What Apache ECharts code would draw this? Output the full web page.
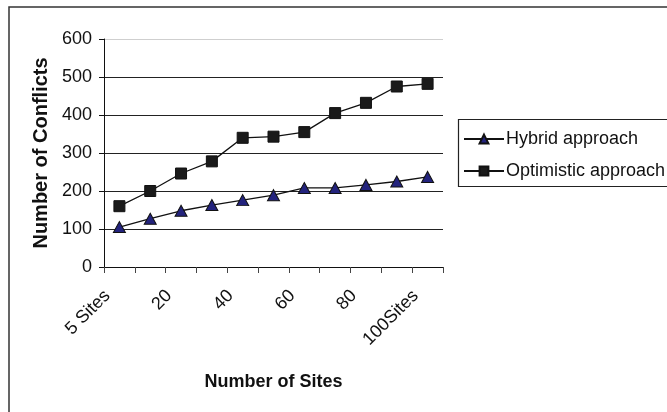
<!DOCTYPE html>
<html>
<head>
<meta charset="utf-8">
<script src="https://cdn.jsdelivr.net/npm/echarts@6/dist/echarts.min.js"></script>
<style>
  html, body { margin: 0; padding: 0; background: #fff; }
  #chart { width: 667px; height: 412px; }
</style>
</head>
<body>
<div id="chart"></div>
<script>
// Categories: number of replica sites
const sites = ['5 Sites', '10', '20', '30', '40', '50', '60', '70', '80', '90', '100Sites'];
// Conflicts per approach
const hybridConflicts = [105, 127, 148, 163, 176, 189, 208, 208, 216, 225, 237];
const optimisticConflicts = [160, 200, 246, 278, 340, 343, 355, 405, 432, 475, 482];
// Value axis ticks
const yMin = 0, yMax = 600, yStep = 100;

const FONT = '"Liberation Sans", Arial, sans-serif';
const chart = echarts.init(document.getElementById('chart'), null, { renderer: 'canvas' });

chart.setOption({
  animation: false,
  backgroundColor: '#fff',
  graphic: [
    {
      type: 'rect', z: -10,
      shape: { x: 9, y: 7, width: 700, height: 440 },
      style: { fill: 'none', stroke: '#333', lineWidth: 1.5 }
    },
    {
      type: 'rect', z: -5,
      shape: { x: 458.5, y: 119.5, width: 260, height: 67 },
      style: { fill: '#fff', stroke: '#222', lineWidth: 1.2 }
    }
  ],
  grid: { left: 104, top: 39, right: 224, bottom: 145, containLabel: false },
  legend: {
    orient: 'vertical',
    left: 463, top: 129,
    itemWidth: 40, itemHeight: 11, itemGap: 12,
    padding: 0,
    textStyle: { fontFamily: FONT, fontSize: 18, color: '#111', lineHeight: 20, padding: [0, 0, 0, -3] },
    data: ['Hybrid approach', 'Optimistic approach']
  },
  xAxis: {
    type: 'category',
    data: sites,
    boundaryGap: true,
    name: 'Number of Sites',
    nameLocation: 'middle',
    nameGap: 106,
    nameTextStyle: { fontFamily: FONT, fontSize: 18, fontWeight: 'bold', color: '#111' },
    axisLine: { lineStyle: { color: '#111', width: 1 } },
    axisTick: { show: true, interval: 0, length: 6, lineStyle: { color: '#444' } },
    axisLabel: { interval: 1, rotate: 45, margin: 14, padding: [0, 17, 0, 0], fontFamily: FONT, fontSize: 18, color: '#111' },
    splitLine: { show: false }
  },
  yAxis: {
    type: 'value',
    min: yMin, max: yMax, interval: yStep,
    name: 'Number of Conflicts',
    nameLocation: 'middle',
    nameGap: 49,
    nameTextStyle: { fontFamily: FONT, fontSize: 20, fontWeight: 'bold', color: '#111' },
    axisLine: { show: true, lineStyle: { color: '#111', width: 1 } },
    axisTick: { show: true, length: 5, lineStyle: { color: '#111' } },
    axisLabel: { margin: 12, fontFamily: FONT, fontSize: 18, color: '#111' },
    splitLine: {
      show: true,
      lineStyle: { color: ['#222', '#222', '#222', '#222', '#222', '#222', '#cfcfcf'], width: 1 }
    }
  },
  series: [
    {
      name: 'Hybrid approach',
      type: 'line',
      data: hybridConflicts,
      symbol: 'triangle',
      symbolSize: [12, 11],
      lineStyle: { color: '#111', width: 1.3 },
      itemStyle: { color: '#23237d', borderColor: '#111', borderWidth: 1 },
      z: 3
    },
    {
      name: 'Optimistic approach',
      type: 'line',
      data: optimisticConflicts,
      symbol: 'rect',
      symbolSize: 11,
      lineStyle: { color: '#111', width: 1.3 },
      itemStyle: { color: '#1a1a1a', borderColor: '#111', borderWidth: 1 },
      z: 3
    }
  ]
});
</script>
</body>
</html>
